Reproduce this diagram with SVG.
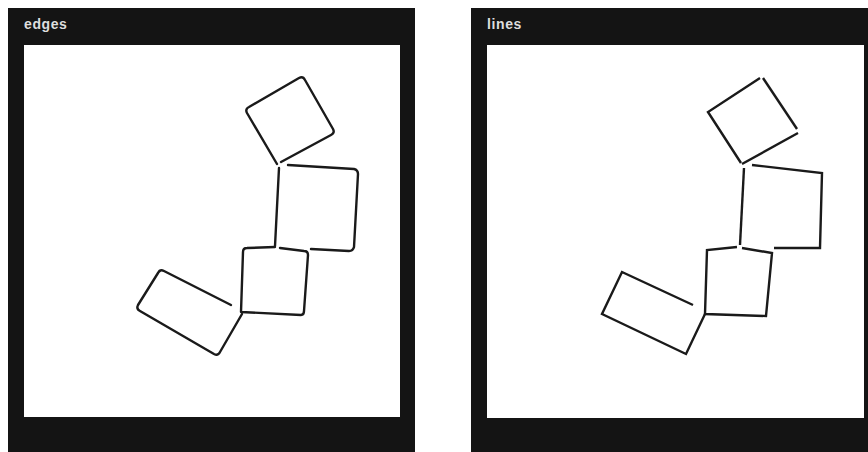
<svg xmlns="http://www.w3.org/2000/svg" width="868" height="452" viewBox="0 0 868 452">
<style>
.panel{fill:#141414}
.canvas{fill:#ffffff}
.title{font-family:"Liberation Sans",Arial,sans-serif;font-size:14px;font-weight:bold;fill:#dedede;letter-spacing:0.6px}
.edge{fill:none;stroke:#1a1a1a;stroke-width:2.4;stroke-linecap:round;stroke-linejoin:round}
.line{fill:none;stroke:#1a1a1a;stroke-width:2.4;stroke-linecap:butt;stroke-linejoin:miter}
</style>
<rect width="868" height="452" fill="#ffffff"/>
<g id="panel-edges">
<rect class="panel" x="8" y="8" width="407" height="444"/>
<rect class="canvas" x="24" y="45" width="376" height="372"/>
<text class="title" x="24" y="29">edges</text>
<g id="edges-shapes">
<path class="edge" d="M277,164 L247,113 Q245,109 249,107 L299,78 Q303,76 305,80 L333,129 Q335,133 331,135 L281,162"/>
<path class="edge" d="M279,168 L275,246"/>
<path class="edge" d="M288,165 L354,169 Q358,170 358,174 L354,247 Q353,251 349,251 L311,249"/>
<path class="edge" d="M275,247 L247,248 Q243,248 243,252 L241,312 L301,315 Q304,315 304,311 L308,255 Q308,251 304,251 L280,248"/>
<path class="edge" d="M231,305 L164,271 Q160,269 158,273 L138,305 Q136,309 140,311 L214,354 Q218,356 220,352 L242,314"/>
</g>
</g>
<g id="panel-lines">
<rect class="panel" x="471" y="8" width="397" height="444"/>
<rect class="canvas" x="487" y="45" width="377" height="373"/>
<text class="title" x="487" y="29">lines</text>
<g id="lines-shapes">
<path class="line" d="M741,163 L708,112 L760,78"/>
<path class="line" d="M763,78 L797,129"/>
<path class="line" d="M798,133 L742,164"/>
<path class="line" d="M744,168 L740,245"/>
<path class="line" d="M752,165 L822,173 L820,248 L774,248"/>
<path class="line" d="M737,247 L707,250 L705,314 L766,316 L772,253 L742,248"/>
<path class="line" d="M693,305 L622,272 L602,314 L686,354 L705,314"/>
</g>
</g>
</svg>
